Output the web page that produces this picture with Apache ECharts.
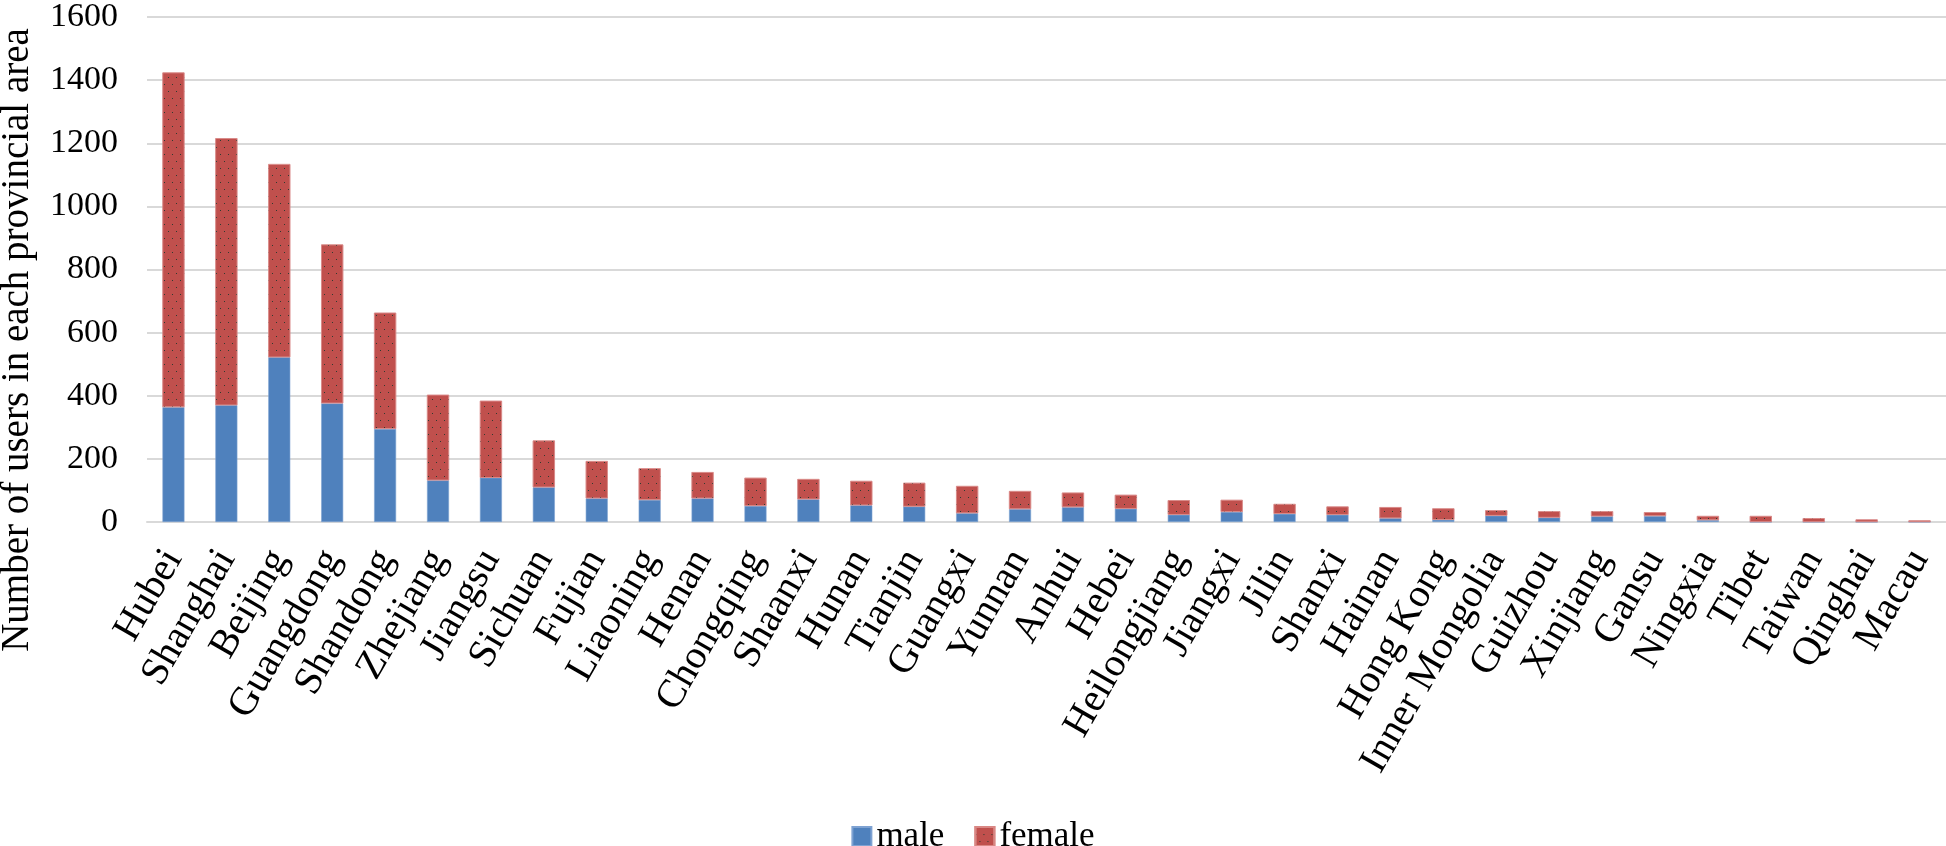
<!DOCTYPE html>
<html>
<head>
<meta charset="utf-8">
<script src="https://cdn.jsdelivr.net/npm/echarts@6/dist/echarts.min.js"></script>
<style>
html,body{margin:0;padding:0;background:#fff;}
#chart{width:1946px;height:846px;}
</style>
</head>
<body>
<div id="chart"></div>
<script>
const categories = ["Hubei","Shanghai","Beijing","Guangdong","Shandong","Zhejiang","Jiangsu","Sichuan","Fujian","Liaoning","Henan","Chongqing","Shaanxi","Hunan","Tianjin","Guangxi","Yunnan","Anhui","Hebei","Heilongjiang","Jiangxi","Jilin","Shanxi","Hainan","Hong Kong","Inner Mongolia","Guizhou","Xinjiang","Gansu","Ningxia","Tibet","Taiwan","Qinghai","Macau"];
const maleValues = [364,370,522,376,295,132,140,110,75,70,75,51,72,53,49,28,41,47,42,23,32,26,23,12,7,20,14,18,19,6,0,0,0,0];
const femaleValues = [1060,846,612,503,368,271,244,148,118,100,83,89,64,77,75,86,57,46,44,46,38,31,26,35,36,17,20,16,12,13,19,12,8,5];
const yTicks = [0,200,400,600,800,1000,1200,1400,1600];
const yTitle = "Number of users in each provincial area";
const seriesNames = ["male","female"];

const FONT = "'Liberation Serif','Times New Roman',serif";
const chart = echarts.init(document.getElementById('chart'), null, {renderer:'canvas'});
chart.setOption({
  animation:false,
  backgroundColor:'#ffffff',
  grid:{left:147,right:0,top:15,bottom:324,containLabel:false},
  legend:{
    data:seriesNames,
    top:814,
    left:'center',
    itemWidth:19,itemHeight:19,itemGap:30,
    icon:'rect',
    textStyle:{fontFamily:FONT,fontSize:35,color:'#000',padding:[0,0,0,0]}
  },
  graphic:[{
    type:'text',
    x:18,y:340,
    rotation:Math.PI/2,
    style:{text:yTitle,font:"39px 'Liberation Serif','Times New Roman',serif",fill:'#000',align:'center',verticalAlign:'middle'}
  }],
  xAxis:{
    type:'category',
    data:categories,
    axisTick:{show:false},
    axisLine:{show:true,lineStyle:{color:'#d9d9d9',width:2}},
    axisLabel:{interval:0,rotate:60,fontFamily:FONT,fontSize:40,color:'#000',margin:31}
  },
  yAxis:{
    type:'value',
    min:yTicks[0],max:yTicks[yTicks.length-1],interval:200,
    axisLine:{show:false},axisTick:{show:false},
    splitLine:{lineStyle:{color:'#d9d9d9',width:2}},
    axisLabel:{fontFamily:FONT,fontSize:34,color:'#000',margin:29,formatter:function(v){return String(v);}}
  },
  series:[
    {name:seriesNames[0],type:'bar',stack:'total',data:maleValues,barWidth:22,
     itemStyle:{color:'#4f81bd',borderColor:'#7ea2d2',borderWidth:0.6}},
    {name:seriesNames[1],type:'bar',stack:'total',data:femaleValues,barWidth:22,
     itemStyle:{color:'#c0504d',borderColor:'#d98784',borderWidth:0.6,
       decal:{symbol:'rect',symbolSize:1,color:'rgba(20,55,45,0.85)',dashArrayX:[[1,7],[0,4,1,3]],dashArrayY:[1,6],rotation:0}}}
  ]
});
</script>
</body>
</html>
